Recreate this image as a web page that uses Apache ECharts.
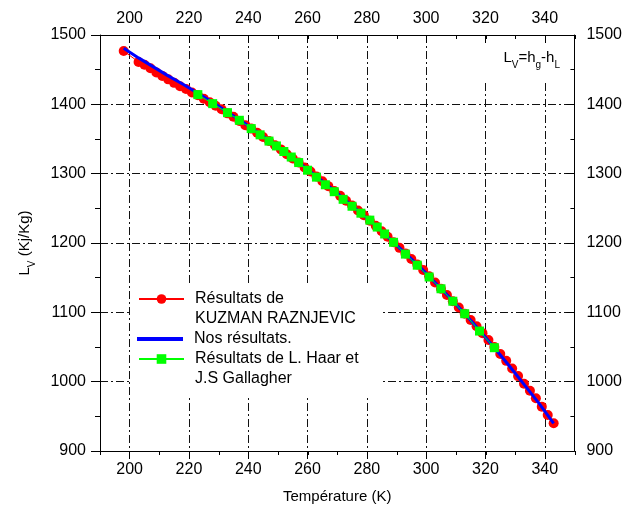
<!DOCTYPE html>
<html>
<head>
<meta charset="utf-8">
<script src="https://cdn.jsdelivr.net/npm/echarts@6/dist/echarts.min.js"></script>
<style>
  html, body { margin: 0; padding: 0; background: #fff; }
  #chart { width: 625px; height: 515px; }
</style>
</head>
<body>
<div id="chart"></div>
<script>
// données
var TEMP_KUZMAN = [198, 203, 205, 207, 209, 211, 213, 215, 217, 219, 221, 223, 225, 227, 229, 231, 233, 235, 237, 239,
  241, 243, 245, 247, 249, 251, 253, 255, 257, 259, 261, 263, 265, 267, 269, 271, 273, 275, 277, 279,
  281, 283, 285, 287, 289, 291, 293, 295, 297, 299, 301, 303, 305, 307, 309, 311, 313, 315, 317, 319,
  321, 323, 325, 327, 329, 331, 333, 335, 337, 339, 341, 343]
var LV_KUZMAN = [1477, 1461, 1457, 1452, 1446, 1441, 1436, 1431, 1426, 1422, 1417, 1413, 1408, 1403, 1398, 1393, 1387, 1382, 1376, 1370,
  1365, 1359, 1353, 1347, 1341, 1335, 1328, 1322, 1316, 1309, 1303, 1296, 1289, 1282, 1275, 1268, 1261, 1254, 1247, 1240,
  1232, 1225, 1217, 1209, 1201, 1193, 1185, 1177, 1169, 1161, 1152, 1143, 1134, 1125, 1116, 1107, 1098, 1089, 1080, 1070,
  1060, 1050, 1040, 1030, 1019, 1008, 997, 987, 976, 964, 952, 940]

var TEMP_NOS = [198, 203, 208, 213, 218, 223, 228, 233, 238, 243, 248, 253, 258, 263, 268, 273, 278, 283, 288, 293,
  298, 303, 308, 313, 318, 323, 328, 333, 338, 343]
var LV_NOS = [1481, 1467, 1454, 1441, 1429, 1416, 1403, 1389, 1375, 1360, 1345, 1329, 1313, 1296, 1279, 1261, 1243, 1225, 1205, 1185,
  1165, 1143, 1121, 1098, 1074, 1049, 1023, 996, 969, 940]

var TEMP_HAAR = [223, 228, 233, 237, 241, 244, 247, 249.5, 252, 254.5, 257, 260, 263, 266, 269, 272, 275, 278, 281, 283.5,
  286, 289, 293, 297, 301, 305, 309, 313, 318, 323]
var LV_HAAR = [1414, 1401, 1388, 1377, 1365, 1356, 1347, 1340, 1332, 1324, 1316, 1305, 1295, 1284, 1274, 1263, 1253, 1243, 1233, 1223,
  1213, 1201, 1184, 1168, 1151, 1134, 1116, 1098, 1073, 1049]

var X_TICKS = [200, 220, 240, 260, 280, 300, 320, 340]

var FONT = 'Arial, "Liberation Sans", sans-serif'

function pairs(xs, ys) {
  var out = []
  for (var i = 0; i < xs.length; i++) out.push([xs[i], ys[i]])
  return out
}
function plain(v) { return String(v) }

var myChart = echarts.init(document.getElementById('chart'), null, { renderer: 'canvas' })

var gridLine = { show: true, lineStyle: { color: '#111', width: 1, type: [8, 3, 2, 3] } }
var axisLine = { show: true, onZero: false, lineStyle: { color: '#000', width: 1 } }
var legendText = { color: '#000', fontSize: 16, fontFamily: FONT, lineHeight: 20, padding: [0, 0, 0, 6] }
var richSub = {
  a: { fontSize: 15, fontFamily: FONT, fontWeight: 'normal', color: '#000', lineHeight: 18 },
  s: { fontSize: 10, fontFamily: FONT, fontWeight: 'normal', color: '#000', lineHeight: 10, verticalAlign: 'top', padding: [11, 0, 0, 0] }
}

var option = {
  animation: false,
  backgroundColor: '#fff',
  textStyle: { fontFamily: FONT },
  grid: [
    { left: 100, right: 50, top: 35, bottom: 64 },
    { left: 100, right: 50, top: 35, bottom: 64 }
  ],
  title: {
    text: '{a|L}{s|V}{a|=h}{s|g}{a|-h}{s|L}',
    right: 55,
    top: 44,
    padding: [5, 10, 10, 50],
    backgroundColor: '#fff',
    textStyle: { fontWeight: 'normal', rich: richSub }
  },
  xAxis: [
    { // bas, graduations principales
      type: 'value', gridIndex: 0, position: 'bottom',
      min: 190, max: 350, interval: 10,
      name: 'Température (K)', nameLocation: 'middle', nameGap: 38,
      nameTextStyle: { color: '#000', fontSize: 15, fontFamily: FONT },
      axisLine: axisLine,
      axisTick: { show: true, inside: false, length: 8, customValues: X_TICKS, lineStyle: { color: '#000' } },
      axisLabel: { margin: 11, customValues: X_TICKS, color: '#000', fontSize: 16, fontFamily: FONT, formatter: plain },
      splitLine: gridLine
    },
    { // haut
      type: 'value', gridIndex: 0, position: 'top',
      min: 190, max: 350, interval: 10,
      axisLine: axisLine,
      axisTick: { show: true, inside: true, length: 8, customValues: X_TICKS, lineStyle: { color: '#000' } },
      axisLabel: { margin: 8, customValues: X_TICKS, color: '#000', fontSize: 16, fontFamily: FONT, formatter: plain },
      splitLine: { show: false }
    },
    { // petites graduations bas
      type: 'value', gridIndex: 1, position: 'bottom',
      min: 190, max: 350, interval: 10,
      axisLine: { show: false },
      axisTick: { show: true, inside: false, length: 4, lineStyle: { color: '#000' } },
      axisLabel: { show: false },
      splitLine: { show: false }
    },
    { // petites graduations haut
      type: 'value', gridIndex: 1, position: 'top',
      min: 190, max: 350, interval: 10,
      axisLine: { show: false },
      axisTick: { show: true, inside: true, length: 4, lineStyle: { color: '#000' } },
      axisLabel: { show: false },
      splitLine: { show: false }
    }
  ],
  yAxis: [
    {
      type: 'value', gridIndex: 0, position: 'left',
      min: 900, max: 1500, interval: 100,
      name: '{a|L}{s|V}{a| (Kj/Kg)}', nameLocation: 'middle', nameGap: 66,
      nameTextStyle: { rich: richSub },
      axisLine: axisLine,
      axisTick: { show: true, inside: false, length: 9, lineStyle: { color: '#000' } },
      minorTick: { show: true, splitNumber: 2, length: 5, lineStyle: { color: '#000' } },
      axisLabel: { margin: 14, color: '#000', fontSize: 16, fontFamily: FONT, formatter: plain },
      splitLine: gridLine
    },
    {
      type: 'value', gridIndex: 0, position: 'right',
      min: 900, max: 1500, interval: 100,
      axisLine: axisLine,
      axisTick: { show: true, inside: true, length: 8, lineStyle: { color: '#000' } },
      minorTick: { show: true, splitNumber: 2, length: 4, lineStyle: { color: '#000' } },
      axisLabel: { margin: 12, color: '#000', fontSize: 16, fontFamily: FONT, formatter: plain },
      splitLine: { show: false }
    },
    {
      type: 'value', gridIndex: 1, show: false,
      min: 900, max: 1500, interval: 100
    }
  ],
  legend: [
    { // fond blanc + "Nos résultats."
      data: ['nos'],
      left: 131, top: 283,
      padding: [46, 91, 46, 6],
      backgroundColor: '#fff',
      z: 5,
      orient: 'vertical',
      icon: 'rect',
      itemWidth: 46, itemHeight: 4,
      selectedMode: false,
      formatter: function () { return 'Nos résultats.' },
      textStyle: legendText
    },
    {
      data: ['kuzman'],
      left: 138, top: 269, padding: 0,
      z: 6,
      orient: 'vertical',
      itemWidth: 45, itemHeight: 12,
      selectedMode: false,
      formatter: function () { return '\nRésultats de\nKUZMAN RAZNJEVIC' },
      textStyle: legendText
    },
    {
      data: ['haar'],
      left: 138, top: 329, padding: 0,
      z: 6,
      orient: 'vertical',
      itemWidth: 45, itemHeight: 12,
      selectedMode: false,
      formatter: function () { return '\nRésultats de L. Haar et\nJ.S Gallagher' },
      textStyle: legendText
    }
  ],
  series: [
    {
      name: 'kuzman', type: 'line', xAxisIndex: 0, yAxisIndex: 0, z: 2,
      data: pairs(TEMP_KUZMAN, LV_KUZMAN),
      symbol: 'circle', symbolSize: 10, showAllSymbol: true,
      itemStyle: { color: '#ff0000' },
      lineStyle: { color: '#ff0000', width: 1 }
    },
    {
      name: 'nos', type: 'line', xAxisIndex: 0, yAxisIndex: 0, z: 3,
      data: pairs(TEMP_NOS, LV_NOS),
      symbol: 'none',
      itemStyle: { color: '#0000ff' },
      lineStyle: { color: '#0000ff', width: 3 }
    },
    {
      name: 'haar', type: 'line', xAxisIndex: 0, yAxisIndex: 0, z: 4,
      data: pairs(TEMP_HAAR, LV_HAAR),
      symbol: 'rect', symbolSize: 9, showAllSymbol: true,
      itemStyle: { color: '#00ff00' },
      lineStyle: { color: '#00ff00', width: 1 }
    }
  ]
}

myChart.setOption(option)
</script>
</body>
</html>
